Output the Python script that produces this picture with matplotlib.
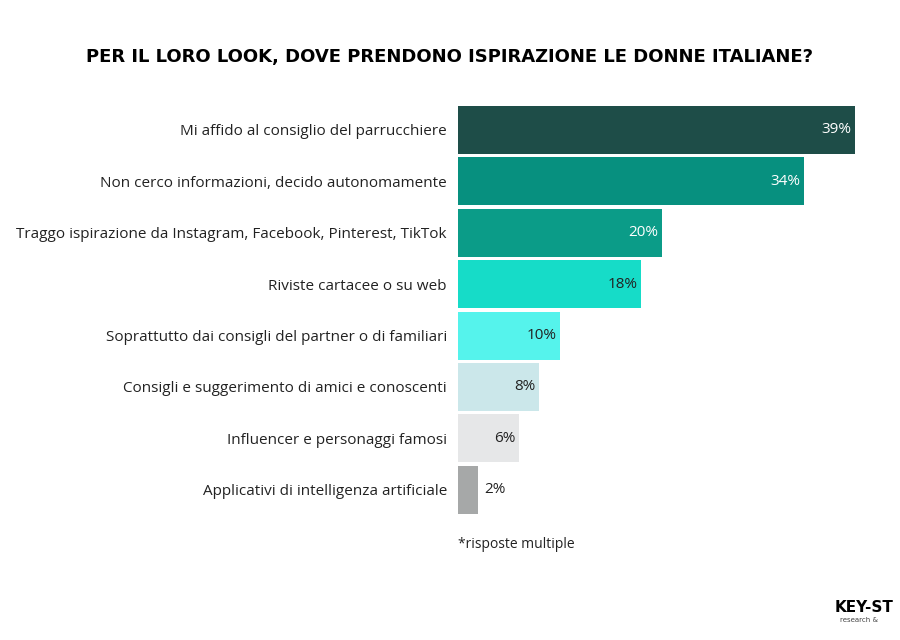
import matplotlib
matplotlib.use("Agg")
import matplotlib.pyplot as plt

categories = ["Mi affido al consiglio del parrucchiere",
              "Non cerco informazioni, decido autonomamente",
              "Traggo ispirazione da Instagram, Facebook, Pinterest, TikTok",
              "Riviste cartacee o su web",
              "Soprattutto dai consigli del partner o di familiari",
              "Consigli e suggerimento di amici e conoscenti",
              "Influencer e personaggi famosi",
              "Applicativi di intelligenza artificiale"]
values = [39, 34, 20, 18, 10, 8, 6, 2]
colors = ["#1e4d48", "#07907f", "#0b9c88", "#16dcc8", "#55f3ec", "#cbe7ea", "#e6e7e8", "#a6a8a8"]
label_colors = ["white", "white", "white", "#222222", "#222222", "#222222", "#222222", "#222222"]

fig = plt.figure(figsize=(9, 6.4), dpi=100)
fig.patch.set_facecolor("white")
top = 104.3 / 640
bot = 515.5 / 640
ax = fig.add_axes([458 / 900, 1 - bot, 442 / 900, bot - top])
ys = list(range(len(values)))
ax.barh(ys, values, height=0.93, color=colors)
ax.set_xlim(0, 442 / 10.18)
ax.set_ylim(len(values) - 0.5, -0.5)
for y, v, c in zip(ys, values, label_colors):
    if v < 4:
        ax.text(v + 0.55, y, f"{v}%", ha="left", va="center", color=c, fontsize=11, family="Open Sans")
    else:
        ax.text(v - 0.35, y, f"{v}%", ha="right", va="center", color=c, fontsize=11, family="Open Sans")
ax.set_yticks(ys)
ax.set_yticklabels(categories, fontsize=11, family="Open Sans", color="#222222")
ax.tick_params(axis="y", length=0, pad=8)
ax.set_xticks([])
for s in ax.spines.values():
    s.set_visible(False)
ax.patch.set_alpha(0)

fig.text(450 / 900, 1 - 57 / 640, "PER IL LORO LOOK, DOVE PRENDONO ISPIRAZIONE LE DONNE ITALIANE?",
         ha="center", va="center", fontsize=13, fontweight="bold", family="DejaVu Sans", color="black")
fig.text(458 / 900, 1 - 545 / 640, "*risposte multiple", ha="left", va="center",
         fontsize=10, family="Open Sans", color="#222222")
fig.text(835 / 900, 1 - 607 / 640, "KEY-ST", ha="left", va="center", fontsize=11,
         fontweight="bold", family="DejaVu Sans", color="black")
fig.text(840 / 900, 1 - 620 / 640, "research &", ha="left", va="center", fontsize=5, color="#444444")
fig.savefig("out.png", dpi=100)
